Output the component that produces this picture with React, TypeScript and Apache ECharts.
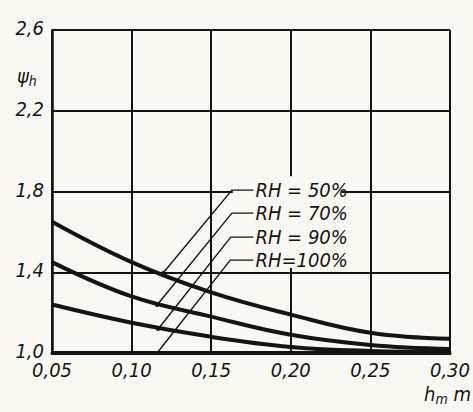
import React, { useEffect, useRef } from "react";
import * as echarts from "echarts";

const xValues = [0.05, 0.1, 0.15, 0.2, 0.25, 0.3];
const rh50 = [1.65, 1.45, 1.3, 1.19, 1.1, 1.07];
const rh70 = [1.45, 1.28, 1.18, 1.09, 1.04, 1.02];
const rh90 = [1.24, 1.15, 1.08, 1.03, 1.01, 1.005];
const rh100 = [1.0, 1.0, 1.0, 1.0, 1.0, 1.0];

const labels = ["RH = 50%", "RH = 70%", "RH = 90%", "RH=100%"];
// leader lines: [point on curve, bend, text start]
const leader50 = [[0.1198, 1.396], [0.163, 1.807], [0.1765, 1.807]];
const leader70 = [[0.116, 1.238], [0.163, 1.693], [0.1765, 1.693]];
const leader90 = [[0.1167, 1.119], [0.1623, 1.574], [0.1765, 1.574]];
const leader100 = [[0.116, 1.0], [0.162, 1.46], [0.1765, 1.46]];
const labelBox = [[0.1636, 1.421], [0.232, 1.876]];

const FONT = "DejaVu Sans Condensed";
const INK = "#141414";
const PAPER = "#faf8f2";

function curve(name: string, ys: number[]) {
  return {
    name,
    type: "line",
    smooth: 0.4,
    showSymbol: false,
    z: 2,
    data: xValues.map((x, i) => [x, ys[i]]),
    lineStyle: { color: INK, width: 4 },
  };
}

function leader(name: string, pts: number[][], text: string) {
  return {
    name,
    type: "line",
    z: 4,
    showSymbol: true,
    data: pts.map((p, i) => ({
      value: p,
      symbol: i === 0 ? "circle" : "none",
      symbolSize: i === 0 ? 4 : 0,
      itemStyle: { color: INK },
    })),
    lineStyle: { color: INK, width: 1.4 },
    endLabel: {
      show: true,
      distance: 2,
      formatter: text,
      fontFamily: FONT,
      fontStyle: "italic",
      fontSize: 20,
      lineHeight: 20,
      color: INK,
    },
  };
}

export default function App() {
  const ref = useRef<HTMLDivElement>(null);
  useEffect(() => {
    if (!ref.current) return;
    const chart = echarts.init(ref.current, null, { renderer: "svg" });
    const richName = {
      a: { fontFamily: FONT, fontStyle: "italic", fontSize: 20, fill: INK },
      b: { fontFamily: FONT, fontStyle: "italic", fontSize: 14, fill: INK, padding: [9, 0, 0, 0] },
    };
    chart.setOption({
      animation: false,
      backgroundColor: PAPER,
      grid: { left: 52, right: 16, top: 30, bottom: 59 },
      xAxis: {
        type: "value",
        min: 0.05,
        max: 0.3,
        interval: 0.05,
        axisLine: { show: true, lineStyle: { color: INK, width: 3 } },
        axisTick: { show: false },
        splitLine: { show: true, lineStyle: { color: INK, width: 2 } },
        axisLabel: {
          formatter: (v: number) => v.toFixed(2).replace(".", ","),
          fontFamily: FONT,
          fontStyle: "italic",
          fontSize: 20,
          lineHeight: 15,
          color: INK,
          margin: 9,
        },
      },
      yAxis: {
        type: "value",
        min: 1.0,
        max: 2.6,
        interval: 0.4,
        axisLine: { show: true, lineStyle: { color: INK, width: 2.5 } },
        axisTick: { show: false },
        splitLine: { show: true, lineStyle: { color: INK, width: 2 } },
        axisLabel: {
          formatter: (v: number) => "{v|" + v.toFixed(1).replace(".", ",") + "}",
          rich: {
            v: {
              fontFamily: FONT,
              fontStyle: "italic",
              fontSize: 20,
              lineHeight: 15,
              color: INK,
              padding: [0, 0, 4, 0],
            },
          },
          margin: 8,
        },
      },
      graphic: [
        {
          type: "text",
          left: 17,
          top: 66,
          style: { text: "{a|ψ}{b|h}", rich: richName },
        },
        {
          type: "text",
          right: 2,
          top: 384,
          style: { text: "{a|h}{b|m}{a| m}", rich: richName },
        },
      ],
      series: [
        {
          name: "box",
          type: "line",
          z: 1,
          data: [],
          markArea: {
            silent: true,
            itemStyle: { color: PAPER },
            data: [[{ coord: labelBox[0] }, { coord: labelBox[1] }]],
          },
        },
        curve("RH 50%", rh50),
        curve("RH 70%", rh70),
        curve("RH 90%", rh90),
        curve("RH 100%", rh100),
        leader("L50", leader50, labels[0]),
        leader("L70", leader70, labels[1]),
        leader("L90", leader90, labels[2]),
        leader("L100", leader100, labels[3]),
      ],
    });
    return () => chart.dispose();
  }, []);
  return (
    <div
      ref={ref}
      style={{ position: "fixed", left: 0, top: 0, width: 473, height: 412 }}
    />
  );
}
